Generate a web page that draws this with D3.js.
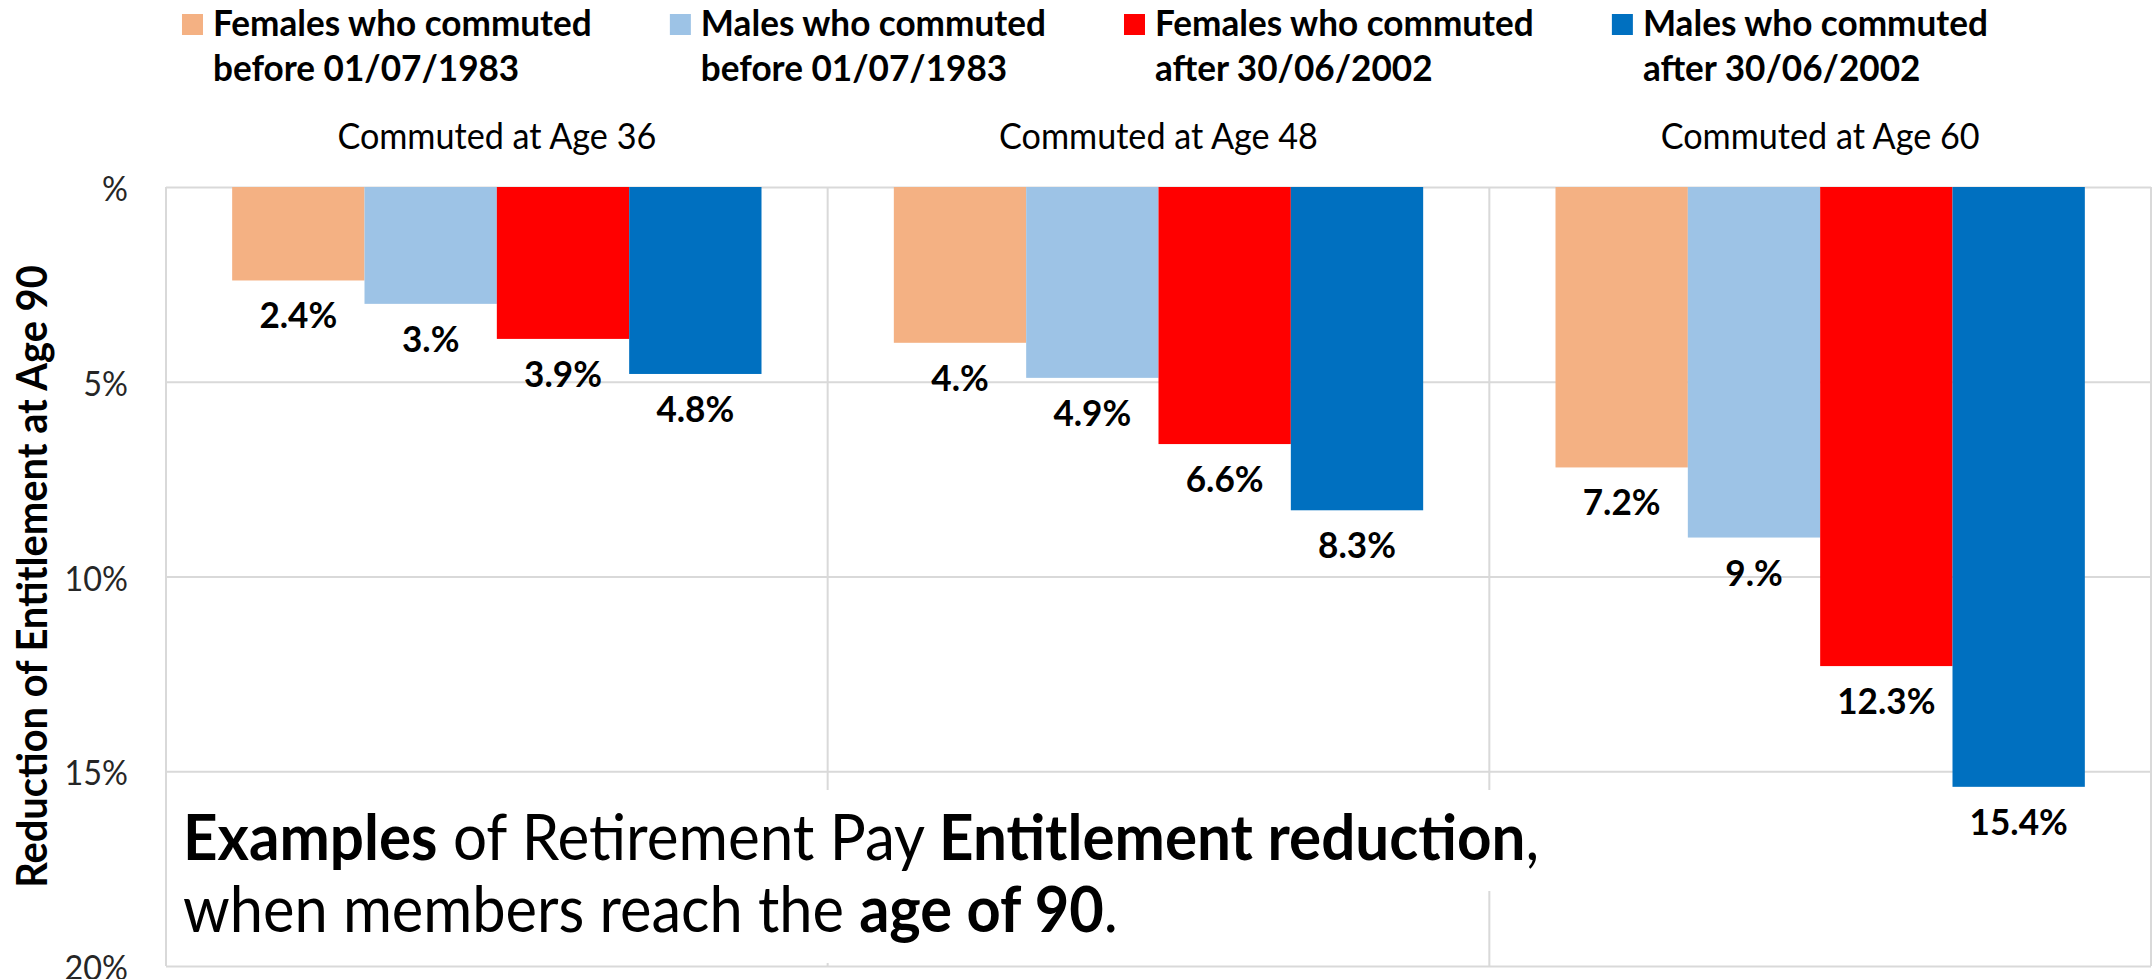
<!DOCTYPE html>
<html>
<head>
<meta charset="utf-8">
<script src="https://d3js.org/d3.v7.min.js"></script>
<style>
  html, body { margin: 0; padding: 0; background: #ffffff; overflow: hidden; }
  svg { display: block; }
</style>
</head>
<body>
<svg id="chart" width="2153" height="979"></svg>
<script>
// ---- data -------------------------------------------------------------
const categories = ["Commuted at Age 36", "Commuted at Age 48", "Commuted at Age 60"];

const seriesNames = [
  "Females who commuted before 01/07/1983",
  "Males who commuted before 01/07/1983",
  "Females who commuted after 30/06/2002",
  "Males who commuted after 30/06/2002"
];
const legendLines = [
  ["Females who commuted", "before 01/07/1983"],
  ["Males who commuted", "before 01/07/1983"],
  ["Females who commuted", "after 30/06/2002"],
  ["Males who commuted", "after 30/06/2002"]
];
const seriesColors = ["#F4B183", "#9DC3E6", "#FF0000", "#0070C0"];

// reduction of entitlement at age 90, in percent
const femalesBefore1983 = [2.4, 4.0, 7.2];
const malesBefore1983   = [3.0, 4.9, 9.0];
const femalesAfter2002  = [3.9, 6.6, 12.3];
const malesAfter2002    = [4.8, 8.3, 15.4];

const yTicks = [0, 5, 10, 15, 20];
const yDomain = [0, 20];
const axisTitle = "Reduction of Entitlement at Age 90";

const noteLines = [
  [{ text: "Examples", bold: true }, { text: " of Retirement Pay " },
   { text: "Entitlement reduction", bold: true }, { text: "," }],
  [{ text: "when members reach the " }, { text: "age of 90", bold: true }, { text: "." }]
];

// ---- setup ------------------------------------------------------------
const seriesValues = [femalesBefore1983, malesBefore1983, femalesAfter2002, malesAfter2002];
const rows = categories.map((c, i) => ({
  category: c,
  values: seriesNames.map((s, j) => ({ series: s, color: seriesColors[j], value: seriesValues[j][i] }))
}));

const W = 2153, H = 979;
const plot = { left: 166, right: 2151, top: 187, bottom: 966 };
const FONT = "Lato, 'Open Sans', 'Liberation Sans', sans-serif";

const svg = d3.select("#chart").attr("viewBox", `0 0 ${W} ${H}`);

// Excel-style number formats: "#%" for the axis, "#.#%" for the labels
const fmtTick = v => (v === 0 ? "" : d3.format("d")(v)) + "%";
const fmtLabel = v => d3.format(".1f")(v).replace(/\.0$/, ".") + "%";

// Lato is wider than Calibri; squeeze glyphs horizontally so that line
// lengths follow Calibri's advance widths (em widths of two sample strings).
function naturalWidth(text, weight) {
  const t = svg.append("text")
    .attr("font-family", FONT).attr("font-weight", weight).attr("font-size", 100)
    .text(text);
  const w = t.node().getComputedTextLength();
  t.remove();
  return w;
}
const squeeze = {
  bold: 1024 / naturalWidth("Females who commuted", "bold"),
  normal: 862 / naturalWidth("Commuted at Age 36", "normal")
};

function addText(parent, o) {
  const weight = o.bold ? "bold" : "normal";
  return parent.append("text")
    .attr("transform", `translate(${o.x},${o.y}) rotate(${o.rotate || 0}) scale(${squeeze[weight]},1)`)
    .attr("font-family", FONT)
    .attr("font-weight", weight)
    .attr("font-size", o.size)
    .attr("fill", o.fill || "#000")
    .attr("text-anchor", o.anchor || "start")
    .text(o.text);
}

// ---- scales -----------------------------------------------------------
const x0 = d3.scaleBand().domain(categories).range([plot.left, plot.right]);
const x1 = d3.scaleBand().domain(seriesNames).range([0, x0.bandwidth()]).paddingOuter(0.5);
const y = d3.scaleLinear().domain(yDomain).range([plot.top, plot.bottom]);

// ---- gridlines and y axis ----------------------------------------------
const grid = svg.append("g").attr("class", "grid");

const yAxis = d3.axisLeft(y)
  .tickValues(yTicks)
  .tickFormat(fmtTick)
  .tickSize(-(plot.right - plot.left))
  .tickPadding(38);

const yAxisG = grid.append("g")
  .attr("transform", `translate(${plot.left},0)`)
  .call(yAxis);
yAxisG.select(".domain").remove();
yAxisG.selectAll(".tick line").attr("stroke", "#d9d9d9").attr("stroke-width", 2);
yAxisG.selectAll(".tick text")
  .attr("x", null).attr("dy", null)
  .attr("dominant-baseline", "central")
  .attr("transform", `translate(-38,0) scale(${squeeze.normal},1)`)
  .attr("font-family", FONT)
  .attr("font-size", 35)
  .attr("fill", "#262626")
  .attr("text-anchor", "end");

// category boundaries
const boundaries = categories.map(c => x0(c)).concat([x0.range()[1]]);
grid.selectAll("line.vgrid")
  .data(boundaries)
  .join("line")
  .attr("class", "vgrid")
  .attr("x1", d => d).attr("x2", d => d)
  .attr("y1", y(yDomain[0])).attr("y2", y(yDomain[1]))
  .attr("stroke", "#d9d9d9").attr("stroke-width", 2);

// ---- bars -------------------------------------------------------------
const groups = svg.append("g").attr("class", "bars")
  .selectAll("g")
  .data(rows)
  .join("g")
  .attr("transform", d => `translate(${x0(d.category)},0)`);

groups.selectAll("rect")
  .data(d => d.values)
  .join("rect")
  .attr("x", d => x1(d.series))
  .attr("y", y(0))
  .attr("width", x1.bandwidth())
  .attr("height", d => y(d.value) - y(0))
  .attr("fill", d => d.color);

// value labels below each bar end
groups.each(function (d) {
  const g = d3.select(this);
  d.values.forEach(v => {
    addText(g, {
      x: x1(v.series) + x1.bandwidth() / 2,
      y: y(v.value) + 48,
      text: fmtLabel(v.value),
      bold: true, size: 37, anchor: "middle"
    });
  });
});

// ---- category labels above the plot -------------------------------------
categories.forEach(c => {
  addText(svg, { x: x0(c) + x0.bandwidth() / 2, y: 149, text: c, size: 37, anchor: "middle" });
});

// ---- y axis title -------------------------------------------------------
addText(svg, {
  x: 47, y: (plot.top + plot.bottom) / 2, rotate: -90,
  text: axisTitle, bold: true, size: 42, anchor: "middle"
});

// ---- legend -------------------------------------------------------------
const legendSize = 37, swatch = 21, swatchGap = 10, entryGap = 78;
const entryWidths = legendLines.map(lines =>
  d3.max(lines, l => naturalWidth(l, "bold") * squeeze.bold * legendSize / 100));
const legendTotal = d3.sum(entryWidths) + legendLines.length * (swatch + swatchGap) + (legendLines.length - 1) * entryGap;
let lx = 1085 - legendTotal / 2;
const legend = svg.append("g").attr("class", "legend");
legendLines.forEach((lines, i) => {
  legend.append("rect")
    .attr("x", lx).attr("y", 14)
    .attr("width", swatch).attr("height", swatch)
    .attr("fill", seriesColors[i]);
  lines.forEach((l, k) => {
    addText(legend, { x: lx + swatch + swatchGap, y: 36 + k * 45, text: l, bold: true, size: legendSize });
  });
  lx += swatch + swatchGap + entryWidths[i] + entryGap;
});

// ---- note over the lower-left of the plot ------------------------------
const noteSize = 64, noteX = 183, noteBaselines = [860, 932];
const note = svg.append("g").attr("class", "note");
noteLines.forEach((runs, i) => {
  const base = noteBaselines[i];
  const bg = note.append("rect").attr("fill", "#ffffff");
  const t = note.append("text")
    .attr("font-family", FONT)
    .attr("font-size", noteSize)
    .attr("fill", "#000");
  let nat = 0, target = 0;
  runs.forEach(r => {
    const ts = t.append("tspan")
      .attr("font-weight", r.bold ? "bold" : "normal")
      .text(r.text);
    const w = ts.node().getComputedTextLength();
    nat += w;
    target += w * squeeze[r.bold ? "bold" : "normal"];
  });
  const k = target / nat;
  t.attr("transform", `translate(${noteX},${base}) scale(${k},1)`);
  const top = i === 0 ? base - 70 : noteBaselines[i - 1] + 27;
  bg.attr("x", plot.left + 1)
    .attr("y", top)
    .attr("width", noteX - plot.left - 1 + target + 14)
    .attr("height", base + 31 - top);
});
</script>
</body>
</html>
